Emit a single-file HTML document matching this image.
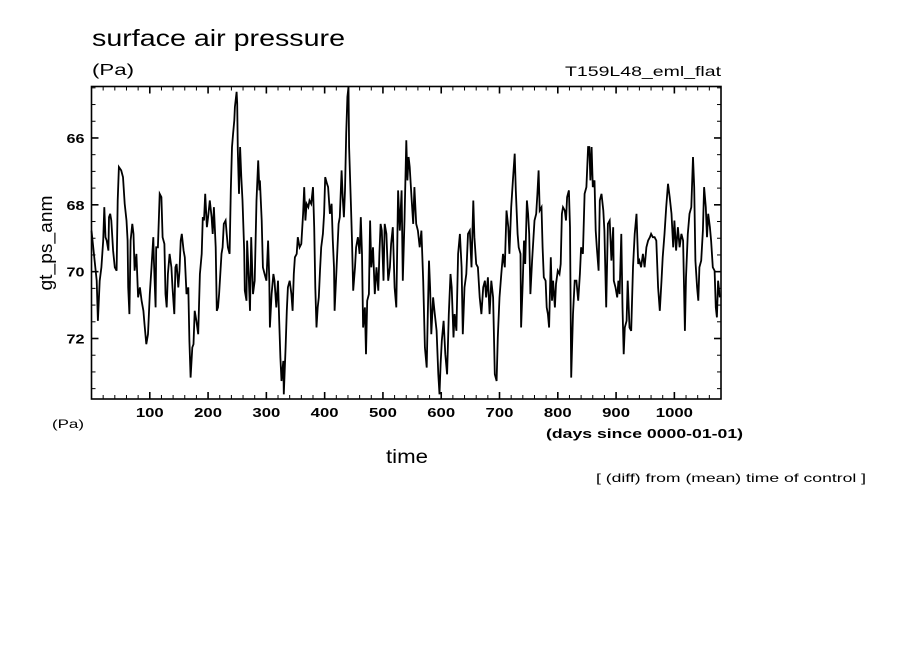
<!DOCTYPE html>
<html><head><meta charset="utf-8"><style>
html,body{margin:0;padding:0;background:#fff;}
svg{display:block;font-family:"Liberation Sans",sans-serif;}
</style></head><body>
<svg id="chart" width="904" height="654" viewBox="0 0 904 654" xmlns="http://www.w3.org/2000/svg">
<rect x="0" y="0" width="904" height="654" fill="#fff"/>
<text x="92" y="46" font-size="23" fill="#000" textLength="253" lengthAdjust="spacingAndGlyphs">surface air pressure</text>
<text x="92" y="75" font-size="16" fill="#000" textLength="42" lengthAdjust="spacingAndGlyphs">(Pa)</text>
<text x="565" y="76" font-size="14" fill="#000" textLength="156" lengthAdjust="spacingAndGlyphs">T159L48_eml_flat</text>
<text transform="translate(52,243) rotate(-90)" font-size="18" text-anchor="middle" fill="#000" textLength="95" lengthAdjust="spacingAndGlyphs">gt_ps_anm</text>
<text x="52" y="428" font-size="12" fill="#000" textLength="32" lengthAdjust="spacingAndGlyphs">(Pa)</text>
<text x="546" y="438" font-size="12.5" font-weight="bold" fill="#000" textLength="197" lengthAdjust="spacingAndGlyphs">(days since 0000-01-01)</text>
<text x="386" y="463" font-size="19" fill="#000" textLength="42" lengthAdjust="spacingAndGlyphs">time</text>
<text x="596" y="482" font-size="12" fill="#000" textLength="270" lengthAdjust="spacingAndGlyphs">[ (diff) from (mean) time of control ]</text>
<g id="axes"></g>
<g id="series"></g>
</svg>
<script>
const days = [0,9,11,14,17,20,22,24,26,29,30,32,34,37,40,43,45,47,51,54,57,60,62,63,65,67,70,72,74,77,80,83,86,89,91,94,97,100,103,106,107,110,111,114,117,120,122,125,127,129,131,134,137,139,142,144,146,149,151,153,155,158,160,163,166,168,170,173,175,177,180,183,186,189,191,193,195,198,200,203,206,208,210,213,215,217,219,223,225,227,230,232,234,237,239,241,243,245,246,249,250,251,253,255,257,259,262,263,266,267,270,272,274,277,280,283,286,288,289,292,294,297,300,303,305,306,309,312,314,317,320,322,324,326,329,330,333,335,337,340,343,345,347,349,352,354,357,360,363,365,367,369,372,374,377,380,382,384,386,388,390,392,394,397,399,401,404,406,409,412,414,416,417,420,422,424,426,429,431,433,435,437,439,441,442,445,447,449,452,454,457,460,462,464,466,469,471,473,476,478,480,483,486,489,492,494,496,498,501,503,506,509,512,514,517,520,523,526,529,532,534,537,540,542,544,546,549,552,554,557,560,563,566,569,572,575,577,579,581,583,586,589,592,595,597,599,601,604,607,610,613,616,618,621,623,626,629,632,635,637,640,643,646,649,652,655,657,660,663,666,669,672,675,677,680,683,686,689,692,695,697,700,703,706,709,712,715,717,720,723,726,728,731,733,736,737,740,742,744,747,749,751,753,756,758,760,763,765,767,769,772,774,776,779,781,783,785,788,790,792,795,797,800,803,805,807,809,812,814,816,819,821,823,826,829,832,835,838,840,843,846,849,852,854,856,858,860,863,865,867,870,872,875,878,880,883,886,889,892,895,896,899,902,904,906,909,911,913,915,918,920,923,926,929,932,935,938,940,943,946,949,952,955,958,960,963,966,969,972,975,978,980,983,986,989,992,995,998,1000,1003,1006,1009,1012,1015,1018,1020,1023,1026,1029,1032,1034,1036,1039,1041,1043,1046,1049,1051,1054,1056,1058,1061,1063,1066,1069,1071,1073,1075,1078];
const values = [68.77,70.27,71.47,70.27,69.87,69.07,68.07,68.97,69.07,69.37,68.37,68.27,68.47,69.37,69.87,69.97,67.87,66.87,66.97,67.17,67.97,68.47,69.07,70.47,71.27,69.07,68.57,68.87,69.97,69.47,70.77,70.47,70.87,71.17,71.57,72.17,71.87,70.67,69.87,68.97,69.67,71.07,69.27,69.27,67.67,67.77,68.97,69.17,70.67,71.07,70.07,69.47,69.87,70.47,71.27,69.87,69.77,70.47,69.97,69.07,68.87,69.37,69.57,70.67,70.47,72.07,73.17,72.27,72.17,71.17,71.47,71.87,70.07,69.47,68.37,68.47,67.67,68.67,68.37,67.87,68.37,68.87,68.07,69.27,71.17,71.07,70.67,69.47,69.27,68.57,68.47,68.87,69.27,69.47,67.57,66.27,65.87,65.47,65.07,64.62,64.97,66.37,67.67,66.27,67.17,67.87,69.37,70.57,70.87,69.07,70.27,71.17,68.97,70.67,70.27,67.87,66.67,67.57,67.27,68.47,69.87,70.07,70.27,69.07,70.27,71.67,70.67,70.07,70.27,71.07,70.27,71.47,72.57,73.27,72.67,73.67,72.27,71.17,70.47,70.27,70.67,71.17,70.07,69.57,69.47,68.97,69.27,69.17,68.27,67.47,68.47,67.97,68.07,67.87,67.97,67.47,68.67,70.47,71.67,71.07,70.77,69.97,69.27,68.87,68.27,67.17,67.37,67.47,68.27,67.97,69.07,69.87,71.17,70.07,69.27,68.57,68.37,66.97,67.77,68.37,67.57,65.87,64.77,64.47,66.27,67.97,69.07,70.57,69.87,69.27,68.97,69.47,68.37,69.47,71.67,71.07,72.47,70.87,70.67,68.47,69.87,69.27,70.67,69.87,70.57,69.47,68.57,68.77,70.27,68.57,68.87,70.27,69.87,69.17,68.67,70.47,71.07,67.57,68.77,67.57,70.27,68.47,66.07,67.27,66.57,66.87,67.77,68.57,67.47,68.57,68.77,69.27,68.77,70.27,72.27,72.87,71.27,69.67,70.47,71.87,70.77,71.27,71.77,73.07,73.67,72.77,72.07,71.47,72.47,73.07,71.27,70.07,70.47,71.97,71.27,71.77,69.47,68.87,69.87,71.87,70.47,70.07,68.87,68.77,69.87,67.87,68.97,69.77,69.87,70.77,71.27,70.47,70.27,70.77,70.17,71.27,70.27,70.77,73.07,73.27,71.97,70.77,70.07,69.47,69.87,68.17,68.67,69.47,68.07,67.27,66.47,67.57,68.87,69.27,69.47,71.67,70.27,69.07,69.77,67.87,68.27,68.87,70.67,69.67,69.07,68.47,68.27,67.67,66.97,68.17,68.07,69.27,70.17,70.27,71.07,71.27,71.67,69.57,70.87,70.27,71.07,70.37,69.97,70.07,69.77,68.27,68.07,68.17,68.47,67.77,67.57,68.67,73.17,71.27,70.27,70.27,70.87,70.07,69.27,69.47,67.67,67.47,66.27,66.27,67.27,66.27,67.47,67.27,68.77,69.27,69.97,67.87,67.67,68.17,68.77,71.07,68.57,68.47,69.67,68.67,70.27,70.47,70.77,70.27,70.67,68.87,71.07,72.47,71.67,71.47,70.27,71.67,71.77,69.87,68.87,68.27,69.77,69.67,69.87,69.47,69.87,69.27,69.07,68.97,68.87,68.97,68.97,69.07,70.47,71.17,70.27,69.57,68.87,68.07,67.37,67.77,68.27,69.27,68.47,69.37,68.67,69.27,68.87,69.07,71.77,70.17,68.87,68.27,68.07,66.57,67.47,69.67,70.47,70.87,69.87,69.67,68.77,67.47,68.07,68.97,68.27,68.67,69.07,69.87,69.97,71.07,71.37,70.27,70.77];
const xTicks = [100,200,300,400,500,600,700,800,900,1000];
const yTicks = [66,68,70,72];
const xMin = 0, xMax = 1080, yTop = 64.46, yBottom = 73.81;

const L = 91.5, R = 721, T = 86.5, B = 399;
const NS = 'http://www.w3.org/2000/svg';
function xs(d){ return L + (d - xMin) / (xMax - xMin) * (R - L); }
function ys(v){ return T + (v - yTop) / (yBottom - yTop) * (B - T); }
function mk(tag, attrs, parent){ const e = document.createElementNS(NS, tag); for (const k in attrs) e.setAttribute(k, attrs[k]); parent.appendChild(e); return e; }

const axes = document.getElementById('axes');
const frame = mk('rect', {x:L, y:T, width:R-L, height:B-T, fill:'none', stroke:'#000', 'stroke-width':1.6}, axes);



for (let d = 20; d < xMax; d += 20) {
  const major = d % 100 === 0;
  const len = major ? 7 : 4;
  const x = xs(d);
  const t1 = mk('line', {x1:x, y1:B, x2:x, y2:B-len, stroke:'#000', 'stroke-width':major?1.6:1}, axes);
  
  
  const t2 = mk('line', {x1:x, y1:T, x2:x, y2:T+len, stroke:'#000', 'stroke-width':major?1.6:1}, axes);
  
  
}
xTicks.forEach(function(d){
  const s = String(d);
  const t = mk('text', {x:xs(d), y:B+18, 'font-size':13, 'font-weight':'bold', 'text-anchor':'middle', fill:'#000', textLength: s.length*9.3, lengthAdjust:'spacingAndGlyphs'}, axes);
  t.textContent = s;
  
  
});
for (let v = 64.5; v <= 73.8; v += 0.5) {
  const major = Math.abs(v % 2) < 0.01;
  const len = major ? 7 : 4;
  const y = ys(v);
  const t1 = mk('line', {x1:L, y1:y, x2:L+len, y2:y, stroke:'#000', 'stroke-width':major?1.6:1}, axes);
  
  
  const t2 = mk('line', {x1:R, y1:y, x2:R-len, y2:y, stroke:'#000', 'stroke-width':major?1.6:1}, axes);
  
  
}
yTicks.forEach(function(v){
  const t = mk('text', {x:L-7, y:ys(v)+5, 'font-size':13, 'font-weight':'bold', 'text-anchor':'end', fill:'#000', textLength:18, lengthAdjust:'spacingAndGlyphs'}, axes);
  t.textContent = String(v);
  
  
});

const series = document.getElementById('series');
let dstr = '';
for (let i = 0; i < days.length; i++) {
  const x = xs(days[i]);
  const y = Math.max(T, Math.min(B, ys(values[i])));
  dstr += (i ? 'L' : 'M') + x.toFixed(1) + ' ' + y.toFixed(1);
}
const line = mk('path', {d:dstr, fill:'none', stroke:'#000', 'stroke-width':1.8, 'stroke-linejoin':'miter'}, series);


</script>
</body></html>
